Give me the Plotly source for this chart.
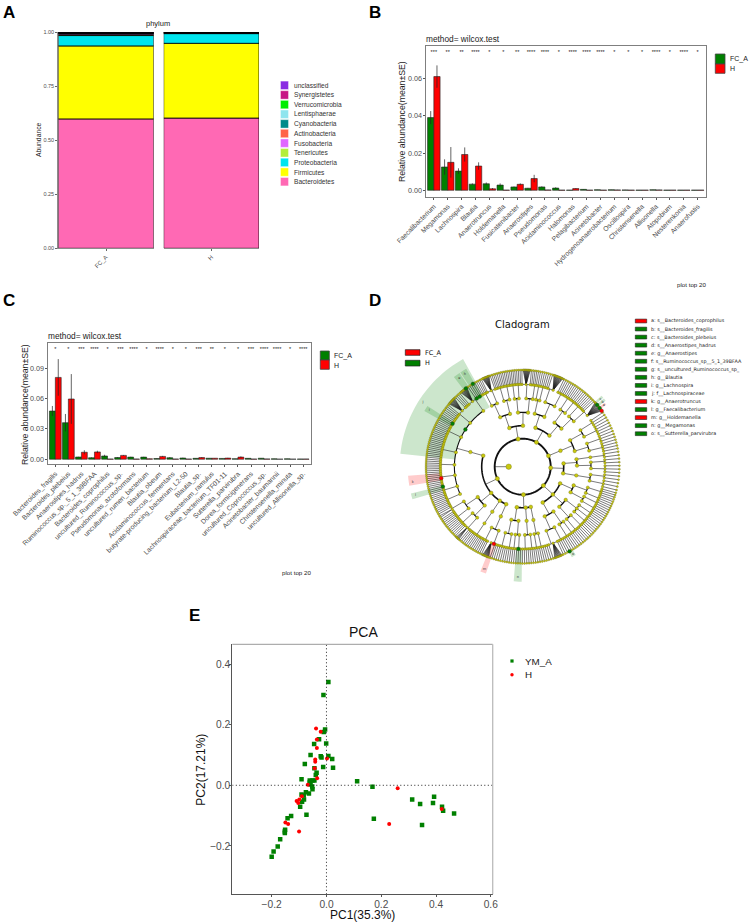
import math
import plotly.graph_objects as go

W, H = 753, 923

def xd(a, b):
    return [a / W, b / W]

def yd(top, bottom):
    return [1 - bottom / H, 1 - top / H]

def px(x):
    return x / W

def py(y):
    return 1 - y / H

# ---------- Panel A data ----------
A_GROUPS = ["FC_A", "H"]
A_PHYLA = ["Bacteroidetes", "Firmicutes", "Proteobacteria", "Tenericutes", "Fusobacteria",
           "Actinobacteria", "Cyanobacteria", "Lentisphaerae", "Verrucomicrobia",
           "Synergistetes", "unclassified"]
A_COLORS = ["#FF69B4", "#FFFF00", "#00E5EE", "#B3EE3A", "#E066FF", "#FF6347",
            "#008B8B", "#8EE5EE", "#00EE00", "#C71585", "#8A2BE2"]
A_FC = [0.599, 0.338, 0.048, 0.004, 0.005, 0.002, 0.001, 0.001, 0.001, 0.0005, 0.0005]
A_H = [0.603, 0.346, 0.045, 0.002, 0.001, 0.001, 0.0005, 0.0005, 0.0005, 0.0002, 0.0003]

# ---------- Panel B data ----------
B_TAXA = ["Faecalibacterium", "Megamonas", "Lachnospira", "Blautia", "Anaerotruncus",
          "Holdemanella", "Fusicatenibacter", "Anaerostipes", "Pseudomonas", "Acidaminococcus",
          "Halomonas", "Pelagibacterium", "Acinetobacter", "Hydrogenoanaerobacterium",
          "Oscillospira", "Christensenella", "Allisonella", "Atopobium", "Nesterenkonia",
          "Anaerofustis"]
B_FC = [0.039, 0.0125, 0.0103, 0.0033, 0.0035, 0.0028, 0.0018, 0.0011, 0.0018, 0.0012,
        0.0001, 0.0005, 0.0003, 0.0003, 0.0002, 0.0001, 0.0003, 0.0001, 0.0001, 0.0001]
B_FC_SE = [0.0035, 0.0041, 0.0015, 0.0004, 0.0007, 0.0009, 0.0002, 0.0002, 0.0003, 0.0004,
           0.00005, 0.0001, 0.00005, 0.00005, 0.00005, 0.00003, 0.00005, 0.00003, 0.00003, 0.00003]
B_H = [0.061, 0.015, 0.0192, 0.013, 0.0008, 0.0001, 0.0032, 0.0063, 0.0002, 0.0001,
       0.0009, 0.0001, 0.0001, 0.0002, 0.0001, 0.0001, 0.0002, 0.0001, 0.0001, 0.0001]
B_H_SE = [0.006, 0.0082, 0.0038, 0.002, 0.0004, 0.00005, 0.0005, 0.002, 0.00005, 0.00005,
          0.0002, 0.00003, 0.00003, 0.00005, 0.00003, 0.00003, 0.00005, 0.00003, 0.00003, 0.00003]
B_STARS = ["***", "**", "**", "****", "*", "*", "**", "****", "****", "*",
           "****", "****", "****", "*", "*", "*", "****", "*", "****", "*"]

# ---------- Panel C data ----------
C_TAXA = ["Bacteroides_fragilis", "Bacteroides_plebeius", "Anaerostipes_hadrus",
          "Ruminococcus_sp._5_1_39BFAA", "Bacteroides_coprophilus", "uncultured_Ruminococcus_sp.",
          "Pseudomonas_azotoformans", "uncultured_rumen_bacterium", "Blautia_obeum",
          "Acidaminococcus_fermentans", "butyrate-producing_bacterium_L2-50", "Blautia_sp.",
          "Eubacterium_ramulus", "Lachnospiraceae_bacterium_TF01-11", "Sutterella_parvirubra",
          "Dorea_formicigenerans", "uncultured_Coprococcus_sp.", "Acinetobacter_baumannii",
          "Christensenella_minuta", "uncultured_Allisonella_sp."]
C_FC = [0.0476, 0.0361, 0.0022, 0.0015, 0.0032, 0.0017, 0.0021, 0.0021, 0.0007, 0.0015,
        0.0012, 0.0009, 0.0010, 0.0008, 0.0005, 0.0009, 0.0010, 0.0004, 0.0004, 0.0002]
C_FC_SE = [0.005, 0.0086, 0.0002, 0.0003, 0.0012, 0.0004, 0.0003, 0.0003, 0.0002, 0.0006,
           0.0003, 0.0002, 0.0002, 0.0002, 0.0001, 0.0002, 0.0002, 0.0001, 0.0001, 0.00005]
C_H = [0.0808, 0.0595, 0.0069, 0.0072, 0.0002, 0.0038, 0.0002, 0.0004, 0.0028, 0.0002,
       0.0002, 0.0016, 0.0010, 0.0011, 0.0021, 0.0002, 0.0003, 0.0001, 0.0001, 0.0002]
C_H_SE = [0.0181, 0.0246, 0.002, 0.0012, 0.00005, 0.0004, 0.00005, 0.0001, 0.0005, 0.00005,
          0.00005, 0.0004, 0.0002, 0.0003, 0.0007, 0.00005, 0.00005, 0.00003, 0.00003, 0.00005]
C_STARS = ["*", "*", "***", "****", "*", "***", "****", "*", "****", "*",
           "*", "***", "**", "*", "*", "***", "****", "****", "*", "****"]

# ---------- Panel D data ----------
D_LEGEND = ["a: s__Bacteroides_coprophilus", "b: s__Bacteroides_fragilis", "c: s__Bacteroides_plebeius",
            "d: s__Anaerostipes_hadrus", "e: g__Anaerostipes", "f: s__Ruminococcus_sp__5_1_39BFAA",
            "g: s__uncultured_Ruminococcus_sp_", "h: g__Blautia", "i: g__Lachnospira",
            "j: f__Lachnospiraceae", "k: g__Anaerotruncus", "l: g__Faecalibacterium",
            "m: g__Holdemanella", "n: g__Megamonas", "o: s__Sutterella_parvirubra"]
D_LEGEND_COL = ["#FF0000", "#008000", "#008000", "#008000", "#008000", "#008000", "#008000", "#008000",
                "#008000", "#008000", "#FF0000", "#008000", "#FF0000", "#008000", "#008000"]
RINGS = [14, 28, 41, 54.3, 68.3, 82.3, 96.7]
PHYLUM_SPANS = [(118, 252), (252, 285), (285, 345), (345, 370), (370, 395), (395, 440), (440, 478)]
# nested clades: phylum > class > order > family > genus (species count)
TREE = [
    [[[[1, 1, 1, 1, 1, 1, 12, 1, 1], [1, 1, 12, 1, 1, 1, 1, 1, 1, 1], [1, 1, 1, 1, 1, 1, 1, 1, 1, 1, 1],
       [1, 1, 1, 1, 1, 1, 1, 1, 1, 1, 1, 1], [1, 1, 1, 1, 1, 1], [1, 1, 1, 1, 1, 1, 1, 1, 1],
       [1, 1, 1, 1, 1, 1, 1], [1, 1, 1, 1, 1]]],
     [[[1, 1, 1, 2, 1, 1], [1, 1, 1, 1, 1]], [[1, 1, 1, 1], [1, 5, 1, 1]]],
     [[[1, 1, 1, 1, 1, 1, 1, 1]]],
     [[[1, 1, 1, 1], [10, 1, 1]]]],
    [[[[1, 1, 1, 1, 1], [1, 1, 1]], [[1, 1], [1, 1, 1]]],
     [[[1, 1, 1, 1], [1, 1, 1]]],
     [[[1, 1], [1, 1, 1]]]],
    [[[[1, 1, 1, 10, 1], [1, 1, 1]], [[1, 1, 1, 1], [1, 1]]],
     [[[1, 1, 1], [1, 1, 1, 1]], [[1, 1], [1, 1, 1], [1, 1]]],
     [[[1, 1, 1, 1], [1, 1]], [[1, 1, 1], [1, 1, 1, 1]]]],
    [[[[1, 1, 1], [1, 1]]], [[[1, 1, 1], [1, 1]], [[1, 1]]]],
    [[[[1, 1, 1, 1], [1, 1, 1]], [[1, 1, 1, 1], [1, 1, 1]]]],
    [[[[16, 1, 1, 1], [1, 1, 1]], [[1, 1, 1, 1], [1, 1, 1, 1]]],
     [[[1, 1, 1, 1, 1], [14, 1, 1]], [[1, 1, 1], [1, 1]]]],
    [[[[1, 1, 1], [1, 1, 12, 1]], [[1, 1, 1, 1], [1, 1, 1]]],
     [[[1, 1, 1, 1, 1], [1, 1, 1, 1]], [[1, 1, 12, 1], [1, 1]]]],
]
NODE_SIZES = [5.5, 4.2, 3.8, 3.6, 3.2, 2.5, 2.0]
ARC_WIDTHS = [1.9, 1.6, 1.4, 1.1, 0.6, 0.5]
# highlighted clades: theta start, theta end, r inner, r outer, colour
HL_T0 = [119, 184.5, 193.5, 147.5, 120, 124, 248, 265.5, 298.5, 40.5, 38.5, 36.5]
HL_T1 = [174, 189.5, 196.5, 150.5, 123.5, 127.5, 251, 269.5, 301, 42, 40, 38]
HL_R0 = [68, 82, 82, 82, 82, 82, 82, 82, 96, 96, 96, 96]
HL_R1 = [123, 115, 115, 113, 113, 113, 113, 115, 103, 106, 106, 104]
HL_C = ["g", "r", "g", "g", "g", "g", "r", "g", "g", "g", "g", "r"]
# biomarker nodes: ring radius, theta, colour
BM_R = [68.3, 82.3, 82.3, 82.3, 82.3, 82.3, 96.7, 96.7, 82.3, 82.3, 96.7, 96.7, 96.7]
BM_T = [147, 148.5, 188, 194, 249.5, 267, 299, 126, 124, 121.5, 121, 39.7, 37.3]
BM_C = ["g", "g", "r", "g", "r", "g", "g", "g", "g", "g", "g", "g", "g"]
BM2_R = [96.7]
BM2_T = [35.3]
# clade letters on the highlights: letter, theta, radius
HL_LETTER = ["j", "i", "k", "l", "m", "n", "o", "h", "e", "a", "b", "c"]
HL_LETTER_T = [147, 149, 188, 195, 249.5, 267.5, 300, 122, 125.5, 37.3, 39, 41]
HL_LETTER_R = [119, 109, 111, 111, 109, 111, 101, 109, 109, 102, 103, 103]

# ---------- Panel E data ----------
E_GREEN_X = [0.007, -0.011, -0.005, -0.010, -0.027, -0.045, -0.001, -0.058, 0.007, -0.021, -0.018, 0.021,
             -0.079, -0.012, 0.024, -0.044, -0.036, -0.039, -0.091, -0.061, -0.044, -0.051, -0.061, -0.058,
             -0.052, -0.051, -0.075, -0.064, -0.091, -0.083, -0.082, -0.089, -0.096, -0.073, -0.129, -0.142,
             -0.151, -0.152, -0.152, -0.169, -0.178, -0.193, -0.200, 0.112, 0.168, 0.173, 0.313, 0.342,
             0.349, 0.389, 0.393, 0.422, 0.426, 0.466]
E_GREEN_Y = [0.341, 0.298, 0.184, 0.176, 0.152, 0.136, 0.138, 0.100, 0.097, 0.096, 0.092, 0.087,
             0.070, 0.060, 0.058, 0.056, 0.041, 0.034, 0.020, 0.016, 0.016, 0.016, 0.009, 0.003,
             -0.004, -0.013, -0.023, -0.027, -0.030, -0.034, -0.047, -0.054, -0.071, -0.097, -0.101, -0.109,
             -0.147, -0.152, -0.157, -0.178, -0.202, -0.218, -0.236, 0.013, -0.005, -0.110, -0.047, -0.062,
             -0.131, -0.058, -0.038, -0.071, -0.084, -0.093]
E_RED_X = [-0.038, -0.021, -0.035, -0.035, 0.002, -0.041, -0.041, -0.043, -0.034, -0.068, -0.090, -0.109,
           -0.099, -0.103, -0.150, -0.140, -0.100, 0.260, 0.229, 0.421]
E_RED_Y = [0.187, 0.177, 0.151, 0.123, 0.088, 0.085, 0.078, 0.056, 0.023, 0.002, -0.036, -0.052,
           -0.047, -0.058, -0.123, -0.128, -0.152, -0.010, -0.128, -0.078]

FONT = "Liberation Sans"
GREEN, RED = "#008000", "#FF0000"
TICK = "#4d4d4d"
BORDER = "#7f7f7f"

fig = go.Figure()
shapes, annos = [], []


def text(x, y, s, size, color="#000", anchor="left", angle=0, family=FONT, weight=None):
    annos.append(dict(xref="paper", yref="paper", x=px(x), y=py(y), text=s, showarrow=False, xanchor=anchor,
                      yanchor="middle", textangle=angle,
                      font=dict(family=family, size=size, color=color, weight=weight),
                      borderpad=0, borderwidth=0))


def rect(x0, y0, x1, y1, fill, line="#000", lw=0.8, kind="rect"):
    shapes.append(dict(type=kind, xref="paper", yref="paper", x0=px(x0), x1=px(x1), y0=py(y0), y1=py(y1),
                       fillcolor=fill, line=dict(color=line, width=lw)))


for lab, x, y in [("A", 3, 13), ("B", 369, 13), ("C", 3, 300), ("D", 369, 300), ("E", 189, 615)]:
    text(x, y, lab, 17, "#000", weight=700)

# ---------- A ----------
for i, name in enumerate(A_PHYLA):
    fig.add_bar(x=A_GROUPS[:1], y=[A_FC[i]], xaxis="x", yaxis="y", marker=dict(color=A_COLORS[i], line=dict(color="#000", width=0.8)),
                width=1, showlegend=False, name=name)
    fig.add_bar(x=A_GROUPS[1:], y=[A_H[i]], xaxis="x2", yaxis="y", marker=dict(color=A_COLORS[i], line=dict(color="#000", width=0.8)),
                width=1, showlegend=False, name=name)
axis_a = dict(showline=True, linecolor="#8c8c8c", linewidth=1, ticks="outside", ticklen=2, tickwidth=0.7, automargin=False,
              tickcolor="#666", tickfont=dict(family=FONT, size=6, color=TICK), tickangle=-45,
              range=[-0.5, 0.5], showgrid=False, type="category", anchor="y")
layout_axes = dict(
    xaxis=dict(domain=xd(58.3, 153.7), **axis_a),
    xaxis2=dict(domain=xd(163.7, 259), **axis_a),
    yaxis=dict(domain=yd(32.3, 248.3), range=[0, 1], tickvals=[0, 0.25, 0.5, 0.75, 1], ticktext=["0.00", "0.25", "0.50", "0.75", "1.00"],
               showline=True, linecolor="#8c8c8c", linewidth=1, ticks="outside", ticklen=2, tickwidth=0.7, tickcolor="#666", automargin=False,
               tickfont=dict(family=FONT, size=5.5, color=TICK), showgrid=False, zeroline=False, anchor="x"),
)
text(158, 24, "phylum", 7.5, "#222", "center")
text(38, 140, "Abundance", 6.8, "#222", "center", -90)
for i, idx in enumerate(range(len(A_PHYLA) - 1, -1, -1)):
    yc = 85.3 + i * 9.64
    rect(280.5, yc - 4.2, 288.5, yc + 4.2, A_COLORS[idx], "#fff", 0.4)
    text(294, yc, A_PHYLA[idx], 6.6, "#333")

# ---------- B, C ----------


def barpanel(xa, ya, xname, yname, taxa, fc, fcse, h, hse, stars, star_y, xdom, ydom, yr, ytick):
    fig.add_bar(x=taxa, y=fc, xaxis=xa, yaxis=ya, name="FC_A", showlegend=False,
                marker=dict(color=GREEN, line=dict(color="#222", width=0.6)),
                error_y=dict(type="data", array=fcse, color="#222", thickness=0.7, width=0))
    fig.add_bar(x=taxa, y=h, xaxis=xa, yaxis=ya, name="H", showlegend=False,
                marker=dict(color=RED, line=dict(color="#222", width=0.6)),
                error_y=dict(type="data", array=hse, color="#222", thickness=0.7, width=0))
    fig.add_scatter(x=taxa, y=[star_y] * len(taxa), text=stars, mode="text", xaxis=xa, yaxis=ya, showlegend=False,
                    textposition="middle center", textfont=dict(family=FONT, size=5.5, color="#222"), cliponaxis=False)
    layout_axes[xname] = dict(domain=xdom, type="category", range=[-0.6, 19.6], categoryorder="array", categoryarray=taxa,
                              showline=True, mirror=True, linecolor=BORDER, linewidth=1, ticks="outside", ticklen=2, automargin=False,
                              tickwidth=0.7, tickcolor="#555", tickangle=-45, tickfont=dict(family=FONT, size=6.8, color=TICK),
                              showgrid=False, anchor=ya, tickmode="array", tickvals=taxa, ticktext=taxa)
    layout_axes[yname] = dict(domain=ydom, range=yr, tickvals=ytick, ticktext=[f"{t:.2f}" for t in ytick], showline=True, mirror=True,
                              linecolor=BORDER, linewidth=1, ticks="outside", ticklen=2, tickwidth=0.7, tickcolor="#555", automargin=False,
                              ticklabelstandoff=-1,
                              tickfont=dict(family=FONT, size=7.2, color=TICK), showgrid=False, zeroline=False, anchor=xa)


barpanel("x3", "y3", "xaxis3", "yaxis3", B_TAXA, B_FC, B_FC_SE, B_H, B_H_SE, B_STARS, 0.0736,
         xd(425.5, 706), yd(46, 197), [-0.0036, 0.0774], [0, 0.02, 0.04, 0.06])
barpanel("x4", "y4", "xaxis4", "yaxis4", C_TAXA, C_FC, C_FC_SE, C_H, C_H_SE, C_STARS, 0.108,
         xd(47.5, 311), yd(343.3, 464.3), [-0.005, 0.1145], [0, 0.03, 0.06, 0.09])

text(425.5, 38.7, "method= wilcox.test", 8.3, "#222")
text(402, 122, "Relative abundance(mean±SE)", 8.7, "#222", "center", -90)
text(706, 284.7, "plot top 20", 6.2, "#222", "right")
rect(715.3, 54, 725, 64, GREEN, "#444", 0.8)
rect(715.3, 64, 725, 73.3, RED, "#444", 0.8)
text(730, 59, "FC_A", 7, "#222")
text(730, 68.7, "H", 7, "#222")

text(47.5, 336, "method= wilcox.test", 8.3, "#222")
text(25, 405, "Relative abundance(mean±SE)", 8.7, "#222", "center", -90)
text(311, 572.7, "plot top 20", 6.2, "#222", "right")
rect(320.3, 351, 329.3, 360, GREEN, "#444", 0.8)
rect(320.3, 360, 329.3, 369.3, RED, "#444", 0.8)
text(334, 355.5, "FC_A", 7, "#222")
text(334, 365, "H", 7, "#222")

# ---------- D: cladogram ----------
CX, CY, RMAX = 522.7, 466.7, 130
polar = dict(domain=dict(x=xd(CX - RMAX, CX + RMAX), y=yd(CY - RMAX, CY + RMAX)),
             radialaxis=dict(visible=False, range=[0, RMAX]),
             angularaxis=dict(visible=False, direction="counterclockwise", rotation=0),
             bgcolor="rgba(0,0,0,0)")


def arc(t0, t1, r):
    n = max(2, int(abs(t1 - t0) / 2) + 2)
    ts = [t0 + (t1 - t0) * k / (n - 1) for k in range(n)]
    return ts, [r] * n


def genus_units(n):
    return n if n < 5 else 1 + 0.3 * (n - 1)


def node_units(node):
    if isinstance(node, int):
        return genus_units(node)
    return sum(node_units(c) for c in node)


seg_r = {i: [] for i in range(6)}
seg_t = {i: [] for i in range(6)}
spoke_r, spoke_t = [], []
node_r = {i: [] for i in range(7)}
node_t = {i: [] for i in range(7)}


def add_seg(level, ts, rs):
    seg_t[level].extend(list(ts) + [None])
    seg_r[level].extend(list(rs) + [None])


def add_spoke(ts, rs):
    spoke_t.extend(list(ts) + [None])
    spoke_r.extend(list(rs) + [None])


def place(node, level, t0, scale):
    """Returns the angle of this node; level is the index into RINGS."""
    r = RINGS[level]
    if isinstance(node, int):
        span = genus_units(node) * scale
        if node == 1:
            th = t0 + span / 2
            leaves = [th]
        else:
            leaves = [t0 + span * (k + 0.5) / node for k in range(node)]
            th = t0 + span / 2
        for s in leaves:
            add_spoke([th, s], [r, RINGS[6]])
            node_t[6].append(s)
            node_r[6].append(RINGS[6])
    else:
        cursor = t0
        kids = []
        for c in node:
            kids.append(place(c, level + 1, cursor, scale))
            cursor += node_units(c) * scale
        th = (kids[0] + kids[-1]) / 2
        rc = RINGS[level + 1]
        if len(kids) > 1:
            a, b = arc(kids[0], kids[-1], rc)
            add_seg(level, a, b)
        add_spoke([th, th], [r, rc])
    node_t[level].append(th)
    node_r[level].append(r)
    return th


phylum_angles = []
for clade, (a0, a1) in zip(TREE, PHYLUM_SPANS):
    scale = (a1 - a0) / node_units(clade)
    phylum_angles.append(place(clade, 1, a0, scale))
a, b = arc(0, 360, RINGS[1])
add_seg(0, a, b)
add_spoke([180, 180], [RINGS[0], RINGS[1]])
node_t[0].append(180)
node_r[0].append(RINGS[0])

for t0, t1, r0, r1, c in zip(HL_T0, HL_T1, HL_R0, HL_R1, HL_C):
    ta, ra = arc(t0, t1, r1)
    tb, rb = arc(t1, t0, r0)
    col = "rgba(0,128,0,0.2)" if c == "g" else "rgba(255,0,0,0.2)"
    fig.add_scatterpolar(theta=ta + tb + [t0], r=ra + rb + [r1], mode="lines", fill="toself", fillcolor=col,
                         line=dict(width=0), subplot="polar", showlegend=False, hoverinfo="skip")
fig.add_scatterpolar(theta=spoke_t, r=spoke_r, mode="lines", subplot="polar", showlegend=False,
                     line=dict(color="#222", width=0.6), hoverinfo="skip", connectgaps=False)
for lv in range(6):
    if seg_t[lv]:
        fig.add_scatterpolar(theta=seg_t[lv], r=seg_r[lv], mode="lines", subplot="polar", showlegend=False,
                             line=dict(color="#111", width=ARC_WIDTHS[lv]), hoverinfo="skip", connectgaps=False)
for lv in range(6, -1, -1):
    fig.add_scatterpolar(theta=node_t[lv], r=node_r[lv], mode="markers", subplot="polar", showlegend=False,
                         marker=dict(color="#C8C810", size=NODE_SIZES[lv], line=dict(color="#55550a", width=0.3)),
                         hoverinfo="skip")
fig.add_scatterpolar(theta=BM_T + BM2_T, r=BM_R + BM2_R, mode="markers", subplot="polar", showlegend=False,
                     marker=dict(color=[GREEN if c == "g" else RED for c in BM_C] + [RED], size=3.8,
                                 line=dict(color="#333", width=0.3)), hoverinfo="skip")
fig.add_scatterpolar(theta=HL_LETTER_T, r=HL_LETTER_R, mode="text", text=HL_LETTER, subplot="polar", showlegend=False,
                     textposition="middle center", textfont=dict(family="DejaVu Sans", size=3.5, color="#333"),
                     hoverinfo="skip")

text(522.7, 324, "Cladogram", 10, "#111", "center", family="DejaVu Sans")
rect(405.3, 349.7, 420, 355.3, RED, "#222", 0.7)
rect(405.3, 360.3, 420, 366, GREEN, "#222", 0.7)
text(425.3, 352.5, "FC_A", 6.5, "#111", family="DejaVu Sans")
text(425.3, 363.2, "H", 6.5, "#111", family="DejaVu Sans")
for i, (lab, c) in enumerate(zip(D_LEGEND, D_LEGEND_COL)):
    yc = 321 + i * 8.05
    rect(635.3, yc - 1.9, 646.7, yc + 1.9, c, "#222", 0.6)
    text(651, yc, lab, 4.9, "#222", family="DejaVu Sans")

# ---------- E ----------
fig.add_scatter(x=E_GREEN_X, y=E_GREEN_Y, mode="markers", xaxis="x5", yaxis="y5", showlegend=False,
                marker=dict(symbol="square", color=GREEN, size=4.5))
fig.add_scatter(x=E_RED_X, y=E_RED_Y, mode="markers", xaxis="x5", yaxis="y5", showlegend=False,
                marker=dict(symbol="circle", color=RED, size=4))
layout_axes["xaxis5"] = dict(domain=xd(232.3, 492.7), range=[-0.3438, 0.607], tickvals=[-0.2, 0, 0.2, 0.4, 0.6], automargin=False,
                             ticktext=["\u22120.2", "0.0", "0.2", "0.4", "0.6"], showline=True, linecolor="#555", linewidth=1,
                             ticks="outside", ticklen=2, tickwidth=0.8, tickcolor="#555", showgrid=False, zeroline=False,
                             ticklabelstandoff=-2,
                             tickfont=dict(family=FONT, size=10.2, color=TICK), anchor="y5")
layout_axes["yaxis5"] = dict(domain=yd(644.3, 894.3), range=[-0.3595, 0.465], tickvals=[-0.2, 0, 0.2, 0.4], automargin=False,
                             ticktext=["\u22120.2", "0.0", "0.2", "0.4"], showline=True, linecolor="#555", linewidth=1,
                             ticks="outside", ticklen=2, tickwidth=0.8, tickcolor="#555", showgrid=False, zeroline=False,
                             ticklabelstandoff=-3,
                             tickfont=dict(family=FONT, size=10.2, color=TICK), anchor="x5")
for kw in [dict(x0=0, x1=0, y0=-0.3595, y1=0.465), dict(x0=-0.3438, x1=0.607, y0=0, y1=0)]:
    shapes.append(dict(type="line", xref="x5", yref="y5", line=dict(color="#222", width=1, dash="1px,2.5px"), **kw))
shapes.append(dict(type="line", xref="paper", yref="paper", x0=px(232.3), x1=px(492.7), y0=py(644.3), y1=py(644.3),
                   line=dict(color="#999", width=1)))
shapes.append(dict(type="line", xref="paper", yref="paper", x0=px(492.7), x1=px(492.7), y0=py(644.3), y1=py(894.3),
                   line=dict(color="#bbb", width=1.3)))
text(363, 632, "PCA", 14, "#111", "center")
text(362.7, 915, "PC1(35.3%)", 12, "#111", "center")
text(200.7, 770, "PC2(17.21%)", 12, "#111", "center", -90)
rect(510.4, 659.4, 513.6, 662.6, GREEN, GREEN, 0)
rect(510.3, 673, 513.7, 676.4, RED, RED, 0, "circle")
text(525, 661, "YM_A", 9.8, "#222")
text(525, 674.7, "H", 9.8, "#222")

fig.update_layout(width=W, height=H, margin=dict(l=0, r=0, t=0, b=0, autoexpand=False), paper_bgcolor="#fff", plot_bgcolor="#fff",
                  barmode="group", bargap=0.1, bargroupgap=0, showlegend=False, polar=polar,
                  shapes=shapes, annotations=annos, **layout_axes)
for tr in fig.data:
    if tr.type == "bar" and tr.xaxis in ("x", "x2"):
        tr.offsetgroup = tr.xaxis
        tr.alignmentgroup = tr.xaxis
base_fc, base_h = 0.0, 0.0
for tr in fig.data:
    if tr.type == "bar" and tr.xaxis == "x":
        tr.base = [base_fc]
        base_fc += tr.y[0]
    elif tr.type == "bar" and tr.xaxis == "x2":
        tr.base = [base_h]
        base_h += tr.y[0]

fig.write_html("out.html", config=dict(displayModeBar=False),
               post_script="document.body.style.margin='0';document.body.style.overflow='hidden';")
